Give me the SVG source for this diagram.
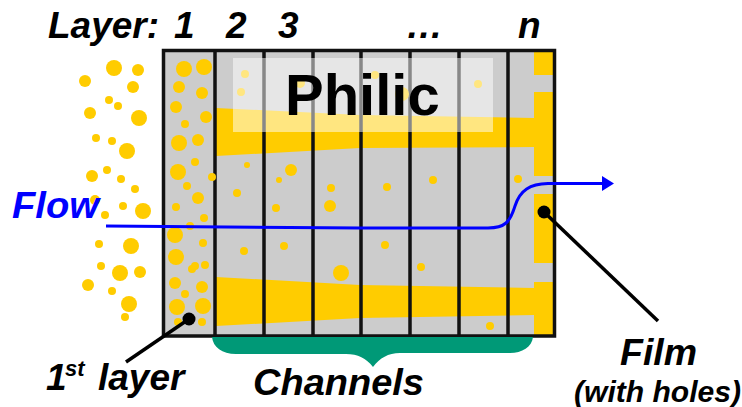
<svg xmlns="http://www.w3.org/2000/svg" width="742" height="407" viewBox="0 0 742 407">
<style>
text{font-family:"Liberation Sans",Arial,sans-serif;font-weight:bold;fill:#000}
.lbl{font-size:37px;font-style:italic}
.y{fill:#ffcc00}
.wall{stroke:#111;stroke-width:3.5;fill:none}
.lead{stroke:#000;stroke-width:3.500;fill:none}
</style>
<defs>
<marker id="tip" markerUnits="userSpaceOnUse" markerWidth="14" markerHeight="17" refX="1" refY="8.500" orient="auto"><path d="M1 1L13 8.500L1 16Z" fill="#0000ff"/></marker>
</defs>
<g id="layer-labels">
<text class="lbl" x="48" y="38" textLength="111" lengthAdjust="spacingAndGlyphs">Layer:</text>
<text class="lbl" x="174" y="38">1</text>
<text class="lbl" x="226" y="38">2</text>
<text class="lbl" x="278" y="38">3</text>
<text class="lbl" x="406" y="38">…</text>
<text class="lbl" x="518" y="38">n</text>
</g>
<g id="stack">
<rect x="163" y="50" width="391" height="286" fill="#cccccc"/>
<g class="y">
<path d="M216 108L360 115L534 118V147L360 148L216 156Z"/>
<path d="M216 277L360 285L534 288V315L360 318L216 326Z"/>
<rect x="534" y="51" width="19" height="24"/>
<rect x="534" y="92" width="19" height="84"/>
<rect x="534" y="194" width="19" height="69"/>
<rect x="534" y="282" width="19" height="53"/>
</g>
<path class="wall" d="M215 50V336M264 50V336M313 50V336M361 50V336M410 50V336M459 50V336M508 50V336"/>
<g class="y">
<circle cx="184" cy="69" r="8"/><circle cx="204" cy="67" r="8"/><circle cx="179" cy="87" r="6"/><circle cx="202" cy="93" r="6"/><circle cx="176" cy="107" r="6"/><circle cx="206" cy="117" r="6"/><circle cx="185" cy="124" r="4"/><circle cx="179" cy="143" r="8"/><circle cx="198" cy="140" r="6"/><circle cx="195" cy="162" r="4"/><circle cx="178" cy="172" r="8"/><circle cx="212" cy="177" r="4"/><circle cx="187" cy="186" r="4"/><circle cx="198" cy="198" r="6"/><circle cx="176" cy="207" r="4"/><circle cx="204" cy="218" r="4"/><circle cx="190" cy="226" r="4"/><circle cx="175" cy="235" r="8"/><circle cx="203" cy="243" r="4"/><circle cx="176" cy="257" r="8"/><circle cx="192" cy="269" r="4"/><circle cx="195" cy="266" r="4"/><circle cx="205" cy="265" r="4"/><circle cx="175" cy="283" r="6"/><circle cx="202" cy="287" r="6"/><circle cx="185" cy="294" r="4"/><circle cx="177" cy="307" r="8"/><circle cx="203" cy="306" r="8"/><circle cx="178" cy="322" r="4"/><circle cx="202" cy="322" r="4"/>
<circle cx="245" cy="74" r="4"/><circle cx="241" cy="92" r="4"/><circle cx="300" cy="83" r="5"/><circle cx="247" cy="165" r="3"/><circle cx="237" cy="193" r="4"/><circle cx="291" cy="170" r="6"/><circle cx="279" cy="180" r="3"/><circle cx="331" cy="188" r="4"/><circle cx="478" cy="84" r="4"/><circle cx="375" cy="75" r="4"/><circle cx="402" cy="94" r="7"/><circle cx="387" cy="187" r="4"/><circle cx="433" cy="180" r="4"/><circle cx="518" cy="179" r="4"/><circle cx="276" cy="208" r="4"/><circle cx="330" cy="206" r="6"/><circle cx="244" cy="251" r="4"/><circle cx="284" cy="246" r="4"/><circle cx="341" cy="273" r="8"/><circle cx="385" cy="245" r="4"/><circle cx="421" cy="267" r="4"/><circle cx="490" cy="326" r="4"/>
</g>
<rect class="wall" x="163.500" y="50.500" width="391" height="285.500"/>
<rect x="233" y="58" width="260" height="74" fill="#ffffff" fill-opacity="0.5"/>
<text x="285" y="115" font-size="58">Philic</text>
</g>
<g id="feed-particles" class="y">
<circle cx="114" cy="68" r="8"/><circle cx="138" cy="70" r="6"/><circle cx="85" cy="81" r="6"/><circle cx="133" cy="87" r="6"/><circle cx="109" cy="100" r="4"/><circle cx="118" cy="106" r="4"/><circle cx="90" cy="113" r="6"/><circle cx="139" cy="118" r="8"/><circle cx="96" cy="138" r="4"/><circle cx="112" cy="141" r="4"/><circle cx="127" cy="151" r="8"/><circle cx="92" cy="176" r="6"/><circle cx="107" cy="170" r="4"/><circle cx="121" cy="179" r="4"/><circle cx="135" cy="189" r="4"/><circle cx="95" cy="200" r="5"/><circle cx="105" cy="215" r="4"/><circle cx="123" cy="206" r="4"/><circle cx="143" cy="211" r="8"/><circle cx="99" cy="244" r="4"/><circle cx="131" cy="246" r="8"/><circle cx="101" cy="266" r="4"/><circle cx="120" cy="273" r="8"/><circle cx="140" cy="272" r="6"/><circle cx="88" cy="285" r="6"/><circle cx="112" cy="291" r="4"/><circle cx="129" cy="304" r="8"/><circle cx="125" cy="317" r="4"/>
</g>
<g id="channels-brace">
<path d="M212 337H533C532 347 522 353 510 353H400C388 353 380 358 373 367C366 358 358 354 346 354H236C222 354 213 347 212 337Z" fill="#009977"/>
<text class="lbl" x="253" y="395" textLength="171" lengthAdjust="spacingAndGlyphs">Channels</text>
</g>
<g id="connectors">
<path d="M106 226L360 228H488C505 228 510 222 515 206C520 190 530 184 548 183.500H602" fill="none" stroke="#0000ff" stroke-width="3" marker-end="url(#tip)"/>
<path class="lead" d="M189 319L126 362"/>
<circle cx="189" cy="319" r="6.500" fill="#000"/>
<path class="lead" d="M544 212L658 321"/>
<circle cx="544" cy="212" r="6.500" fill="#000"/>
</g>
<g id="flow-label"><text class="lbl" x="12" y="218" style="fill:#0000ff" textLength="87" lengthAdjust="spacingAndGlyphs">Flow</text></g>
<g id="first-layer-label">
<text class="lbl" x="46" y="390">1</text>
<text x="65" y="376" font-size="22" font-style="italic">st</text>
<text class="lbl" x="98" y="390">layer</text>
</g>
<g id="film-label">
<text class="lbl" x="620" y="365" textLength="77" lengthAdjust="spacingAndGlyphs">Film</text>
<text x="574" y="402" font-size="29" font-style="italic" textLength="167" lengthAdjust="spacingAndGlyphs">(with holes)</text>
</g>
</svg>
